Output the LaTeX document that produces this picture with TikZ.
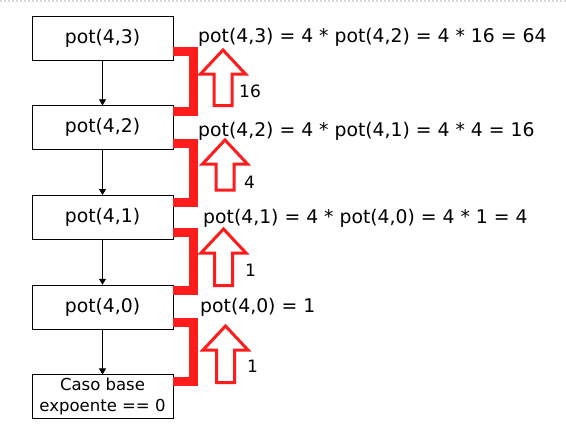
\documentclass[tikz,border=0pt]{standalone}
\usepackage{fontspec}
\setmainfont{DejaVu Sans}
\usetikzlibrary{positioning, arrows.meta}
\definecolor{retred}{RGB}{255,28,28}
\tikzset{
	node distance=45pt,
	box/.style={draw, line width=0.7pt, minimum width=141pt, minimum height=44pt, inner sep=0pt, font=\fontsize{18.8}{21}\selectfont},
	call/.style={-{Triangle[width=7pt,length=6pt]}, line width=0.7pt},
	bracket/.style={draw=retred, line width=9pt, line join=miter},
	hollow/.style={draw=retred, line width=3pt, fill=white, line join=miter},
	eqn/.style={anchor=base west, inner sep=0pt, font=\fontsize{18.8}{21}\selectfont},
	ret/.style={anchor=base west, inner sep=0pt, font=\fontsize{17}{20}\selectfont},
	pics/retarrow/.style={code={
		\path[hollow] (0,0) -- (22.5,24) -- (9,24) -- (9,#1) -- (-9,#1) -- (-9,24) -- (-22.5,24) -- cycle;
	}}
}
\begin{document}
\begin{tikzpicture}[x=1pt, y=-1pt]
	\useasboundingbox[fill=white] (0,0) rectangle (566,434);
	\draw[gray!30, line width=1.5pt, dash pattern=on 2pt off 2pt] (0,1) -- (566,1);

	\node[box] (p43) at (102.5,38) {pot(4,3)};
	\node[box, below=of p43] (p42) {pot(4,2)};
	\node[box, below=of p42] (p41) {pot(4,1)};
	\node[box, below=of p41] (p40) {pot(4,0)};
	\node[box, below=of p40, align=center, font=\fontsize{16.5}{21}\selectfont] (base) {Caso base\\expoente == 0};

	\node[eqn] (e43) at (198,42) {pot(4,3) = 4 * pot(4,2) = 4 * 16 = 64};
	\node[eqn] (e42) at (198,136) {pot(4,2) = 4 * pot(4,1) = 4 * 4 = 16};
	\node[eqn] (e41) at (203,223) {pot(4,1) = 4 * pot(4,0) = 4 * 1 = 4};
	\node[eqn] (e40) at (200,312) {pot(4,0) = 1};

	\pic (u43) at (223,50) {retarrow=55.5};
	\pic (u42) at (225,140) {retarrow=50};
	\pic (u41) at (223.5,229) {retarrow=56.5};
	\pic (u40) at (225.5,326) {retarrow=56.5};

	\node[ret] (r43) at (239,97) {16};
	\node[ret] (r42) at (244,188) {4};
	\node[ret] (r41) at (245,276) {1};
	\node[ret] (r40) at (247,372) {1};

%	calls
	\draw[call] (p43) -- (p42);
	\draw[call] (p42) -- (p41);
	\draw[call] (p41) -- (p40);
	\draw[call] (p40) -- (base);

%	returns
	\draw[bracket] ([yshift=9pt]p43.south east) -- ++(20.5,0) |- ([yshift=-6pt]p42.north east);
	\draw[bracket] ([yshift=7pt]p42.south east) -- ++(20.5,0) |- ([yshift=-7pt]p41.north east);
	\draw[bracket] ([yshift=7pt]p41.south east) -- ++(20.5,0) |- ([yshift=-6pt]p40.north east);
	\draw[bracket] ([yshift=7pt]p40.south east) -- ++(20.5,0) |- ([yshift=-7pt]base.north east);
\end{tikzpicture}
\end{document}
